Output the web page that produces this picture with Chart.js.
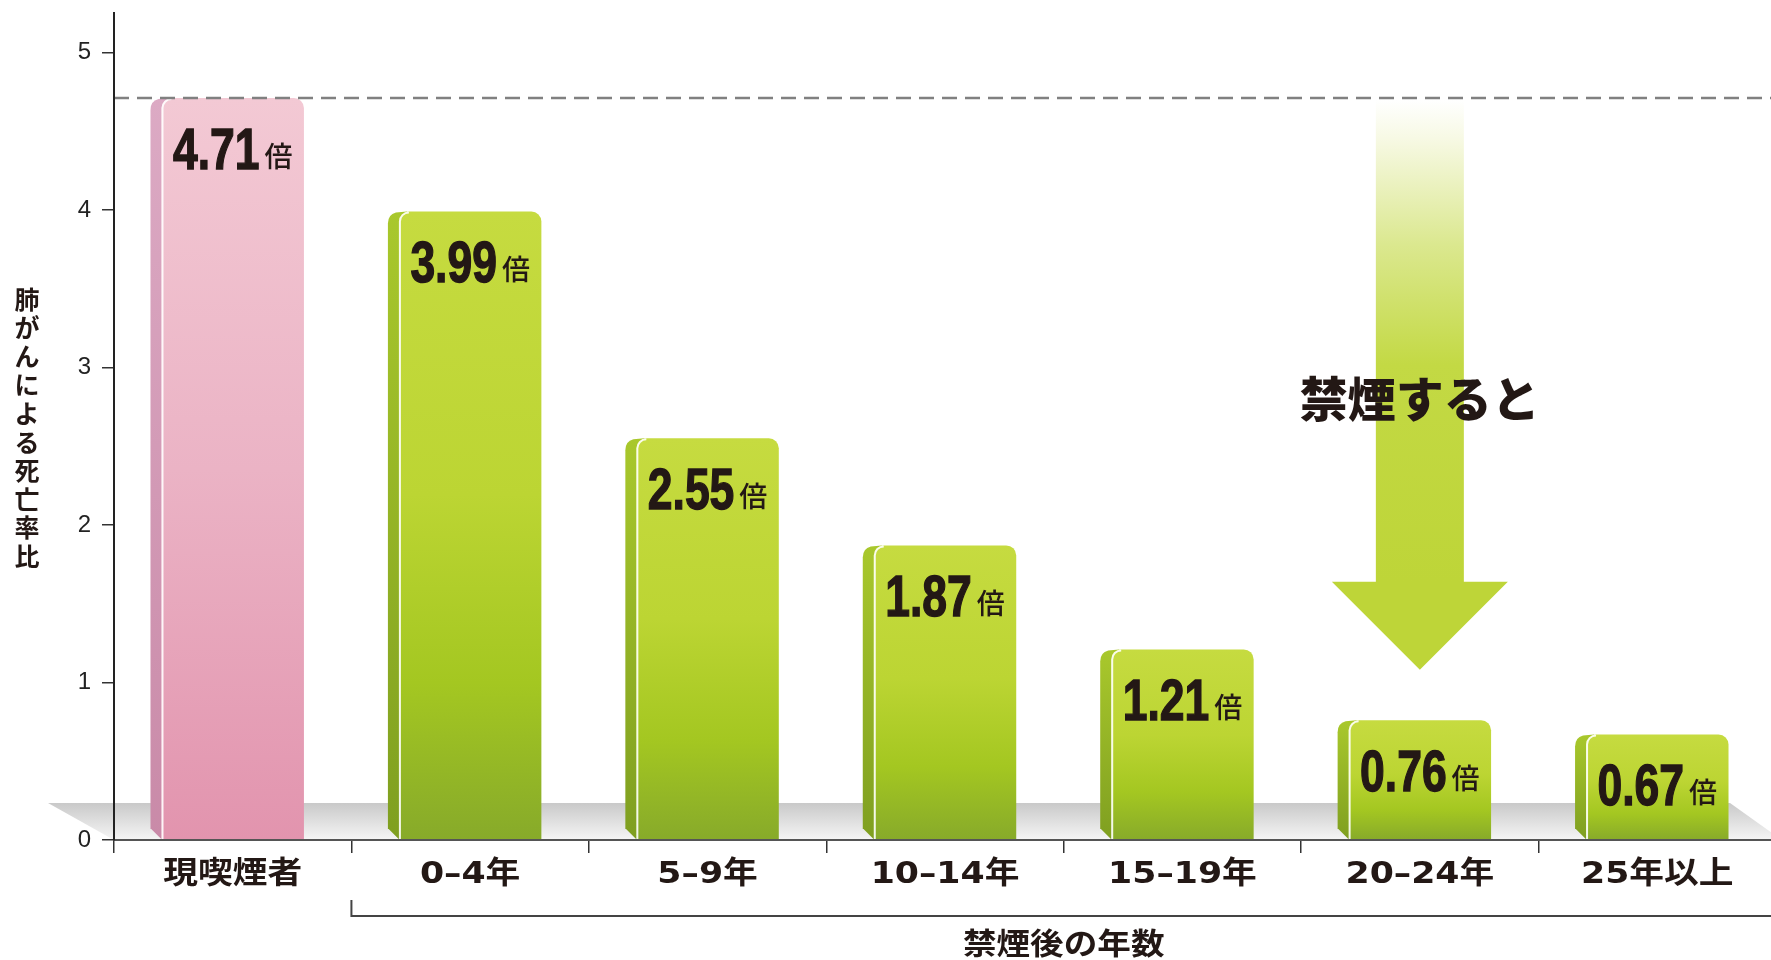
<!DOCTYPE html>
<html lang="ja">
<head>
<meta charset="utf-8">
<title>肺がんによる死亡率比</title>
<script src="https://cdn.jsdelivr.net/npm/chart.js@4.4.1/dist/chart.umd.min.js"></script>
<style>
  html, body { margin: 0; padding: 0; background: #ffffff; overflow: hidden; }
  canvas { display: block; }
</style>
</head>
<body>
<canvas id="chart" width="1778" height="960"></canvas>
<script>
// ---- data ----
const categories = ['現喫煙者', '0–4年', '5–9年', '10–14年', '15–19年', '20–24年', '25年以上'];
const ratios = [4.71, 3.99, 2.55, 1.87, 1.21, 0.76, 0.67];
const yTickValues = [0, 1, 2, 3, 4, 5];
const unitLabel = '倍';
const yTitle = '肺がんによる死亡率比';
const xTitle = '禁煙後の年数';
const arrowText = '禁煙すると';

// ---- styling ----
const JP = "'Noto Sans CJK JP', 'Noto Sans CJK SC', sans-serif";
const INK = '#231815';
const PINK_FACE = [[0, '#f3c9d4'], [0.5, '#ebb3c5'], [1, '#e294ae']];
const PINK_SIDE = [[0, '#dcaac4'], [1, '#c98aa8']];
const GREEN_FACE = [[0, '#c6db40'], [0.45, '#bcd533'], [0.75, '#a4c721'], [1, '#87aa2a']];
const GREEN_SIDE = [[0, '#a9c82c'], [1, '#7f9f20']];
const SIDE_W = 11;
const RADIUS = 10;

// arrow annotation placement (value units on the y scale)
const ARROW_CATEGORY = 5;
const ARROW_HEAD_VALUE = 1.64;
const ARROW_TIP_VALUE = 1.08;
const ARROW_TEXT_VALUE = 2.80;

function vGradient(ctx, top, bottom, stops) {
  const g = ctx.createLinearGradient(0, top, 0, bottom);
  stops.forEach(([p, c]) => g.addColorStop(p, c));
  return g;
}

const decor = {
  id: 'decor',
  // grey floor slab behind the bars
  beforeDraw(chart) {
    const { ctx, chartArea: a, scales: { y } } = chart;
    const y0 = y.getPixelForValue(0);
    const top = y0 - 37;
    ctx.save();
    ctx.beginPath();
    ctx.moveTo(a.left - 66, top);
    ctx.lineTo(a.right - 46, top);
    ctx.lineTo(a.right + 6, y0);
    ctx.lineTo(a.left, y0);
    ctx.closePath();
    ctx.fillStyle = vGradient(ctx, top, y0, [[0, '#c9c9c9'], [1, '#f6f6f6']]);
    ctx.fill();
    ctx.restore();
  },
  // bevelled side faces on the left of every bar
  beforeDatasetsDraw(chart) {
    const { ctx } = chart;
    const meta = chart.getDatasetMeta(0);
    ctx.save();
    meta.data.forEach((el, i) => {
      const left = el.x - el.width / 2;
      const top = el.y, bottom = el.base;
      ctx.beginPath();
      ctx.moveTo(left + 8, top);
      ctx.lineTo(left - 3, top + 1);
      ctx.quadraticCurveTo(left - SIDE_W, top + 3, left - SIDE_W, top + 12);
      ctx.lineTo(left - SIDE_W, bottom - SIDE_W);
      ctx.lineTo(left, bottom);
      ctx.lineTo(left + 8, bottom);
      ctx.closePath();
      ctx.fillStyle = vGradient(ctx, top, bottom, i === 0 ? PINK_SIDE : GREEN_SIDE);
      ctx.fill();
    });
    ctx.restore();
  },
  afterDatasetsDraw(chart) {
    const { ctx, chartArea: a, scales: { x, y } } = chart;
    const meta = chart.getDatasetMeta(0);
    const W = chart.width;

    ctx.save();
    // light edge between side and face
    meta.data.forEach((el) => {
      const left = el.x - el.width / 2 + 1;
      ctx.beginPath();
      ctx.moveTo(left, el.base);
      ctx.lineTo(left, el.y + RADIUS);
      ctx.arcTo(left, el.y + 1, left + RADIUS, el.y + 1, RADIUS - 1);
      ctx.strokeStyle = 'rgba(255,255,255,0.9)';
      ctx.lineWidth = 2;
      ctx.stroke();
    });

    // value labels on the bars
    meta.data.forEach((el, i) => {
      const num = ratios[i].toFixed(2);
      const sx = 0.78;
      ctx.font = "bold 57px 'Liberation Sans', Arial, sans-serif";
      const numW = ctx.measureText(num).width * sx;
      ctx.font = `500 28px ${JP}`;
      const unitW = ctx.measureText(unitLabel).width;
      const gap = 5;
      const start = el.x - (numW + gap + unitW) / 2;
      const base = el.y + 71;
      ctx.fillStyle = INK;
      ctx.strokeStyle = INK;
      ctx.save();
      ctx.translate(start, base);
      ctx.scale(sx, 1);
      ctx.font = "bold 57px 'Liberation Sans', Arial, sans-serif";
      ctx.textAlign = 'left';
      ctx.textBaseline = 'alphabetic';
      ctx.lineWidth = 1.4;
      ctx.fillText(num, 0, 0);
      ctx.strokeText(num, 0, 0);
      ctx.restore();
      ctx.font = `500 28px ${JP}`;
      ctx.textAlign = 'left';
      ctx.textBaseline = 'alphabetic';
      ctx.fillText(unitLabel, start + numW + gap, base - 2);
    });

    // reference level of current smokers
    const refY = y.getPixelForValue(ratios[0]);
    ctx.beginPath();
    ctx.setLineDash([15, 8]);
    ctx.moveTo(a.left, refY);
    ctx.lineTo(W, refY);
    ctx.strokeStyle = '#808080';
    ctx.lineWidth = 2.5;
    ctx.stroke();
    ctx.setLineDash([]);

    // downward arrow
    const cx = x.getPixelForValue(ARROW_CATEGORY);
    const aTop = refY + 2;
    const aHead = y.getPixelForValue(ARROW_HEAD_VALUE);
    const aTip = y.getPixelForValue(ARROW_TIP_VALUE);
    const shaftHalf = 44, headHalf = 88;
    ctx.beginPath();
    ctx.moveTo(cx - shaftHalf, aTop);
    ctx.lineTo(cx + shaftHalf, aTop);
    ctx.lineTo(cx + shaftHalf, aHead);
    ctx.lineTo(cx + headHalf, aHead);
    ctx.lineTo(cx, aTip);
    ctx.lineTo(cx - headHalf, aHead);
    ctx.lineTo(cx - shaftHalf, aHead);
    ctx.closePath();
    ctx.fillStyle = vGradient(ctx, aTop, aHead,
      [[0, '#ffffff'], [0.08, '#f7f9e4'], [0.3, '#dbe88f'], [0.55, '#c3d944'], [1, '#bed538']]);
    ctx.fill();

    ctx.font = `900 48px ${JP}`;
    ctx.fillStyle = INK;
    ctx.textAlign = 'center';
    ctx.textBaseline = 'middle';
    ctx.fillText(arrowText, cx, y.getPixelForValue(ARROW_TEXT_VALUE));

    // category labels
    ctx.font = `bold 31px 'DejaVu Sans', ${JP}`;
    ctx.fillStyle = INK;
    categories.forEach((c, i) => {
      ctx.save();
      ctx.translate(x.getPixelForValue(i), 875);
      ctx.scale(1.12, 1);
      ctx.textAlign = 'center';
      ctx.textBaseline = 'middle';
      ctx.fillText(c, 0, 0);
      ctx.restore();
    });

    // bracket grouping the years since quitting
    const bx = (x.getPixelForValue(0) + x.getPixelForValue(1)) / 2;
    ctx.beginPath();
    ctx.moveTo(bx, 900);
    ctx.lineTo(bx, 916);
    ctx.lineTo(W, 916);
    ctx.strokeStyle = '#444';
    ctx.lineWidth = 2;
    ctx.stroke();

    ctx.save();
    ctx.translate((bx + a.right) / 2, 943);
    ctx.scale(1.12, 1);
    ctx.font = `bold 30px ${JP}`;
    ctx.textAlign = 'center';
    ctx.textBaseline = 'middle';
    ctx.fillText(xTitle, 0, 0);
    ctx.restore();

    // vertical y-axis title, one character per row
    ctx.font = `bold 25px ${JP}`;
    ctx.textAlign = 'center';
    ctx.textBaseline = 'middle';
    [...yTitle].forEach((ch, i) => {
      ctx.fillText(ch, 27, 299 + i * 28.6);
    });
    ctx.restore();
  }
};

new Chart(document.getElementById('chart'), {
  type: 'bar',
  data: {
    labels: categories,
    datasets: [{
      data: ratios,
      backgroundColor: (c) => {
        const chart = c.chart;
        const y = chart.scales && chart.scales.y;
        const fallback = c.dataIndex === 0 ? '#ebb3c5' : '#bcd533';
        if (!y || c.raw === undefined) return fallback;
        const top = y.getPixelForValue(c.raw);
        const base = y.getPixelForValue(0);
        if (!Number.isFinite(top) || !Number.isFinite(base) || top === base) return fallback;
        return vGradient(chart.ctx, top, base, c.dataIndex === 0 ? PINK_FACE : GREEN_FACE);
      },
      borderWidth: 0,
      borderRadius: { topLeft: RADIUS, topRight: RADIUS, bottomLeft: 0, bottomRight: 0 },
      borderSkipped: 'bottom',
      barPercentage: 0.6,
      categoryPercentage: 1.0
    }]
  },
  options: {
    responsive: false,
    animation: false,
    devicePixelRatio: 1,
    layout: { padding: { top: 13, right: 2, left: 0, bottom: 0 } },
    plugins: { legend: { display: false }, tooltip: { enabled: false } },
    scales: {
      x: {
        type: 'category',
        offset: true,
        afterFit: (s) => { s.height = 120; s.paddingLeft = 0; s.paddingRight = 0; },
        grid: { display: true, drawOnChartArea: false, drawTicks: true, tickLength: 13, color: '#333', lineWidth: 1.5, z: 1 },
        border: { display: true, color: '#555', width: 2, z: 1 },
        ticks: { display: false }
      },
      y: {
        min: 0,
        max: 5.25,
        afterFit: (s) => { s.width = 114; s.paddingTop = 0; s.paddingBottom = 0; },
        afterBuildTicks: (s) => { s.ticks = yTickValues.map(v => ({ value: v })); },
        grid: { display: true, drawOnChartArea: false, drawTicks: true, tickLength: 12, color: '#333', lineWidth: 1.5, z: 1 },
        border: { display: true, color: '#222', width: 2, z: 1 },
        ticks: {
          stepSize: 1,
          padding: 11,
          color: '#222',
          font: { family: "'Liberation Sans', Arial, sans-serif", size: 24 }
        }
      }
    }
  },
  plugins: [decor]
});
</script>
</body>
</html>
